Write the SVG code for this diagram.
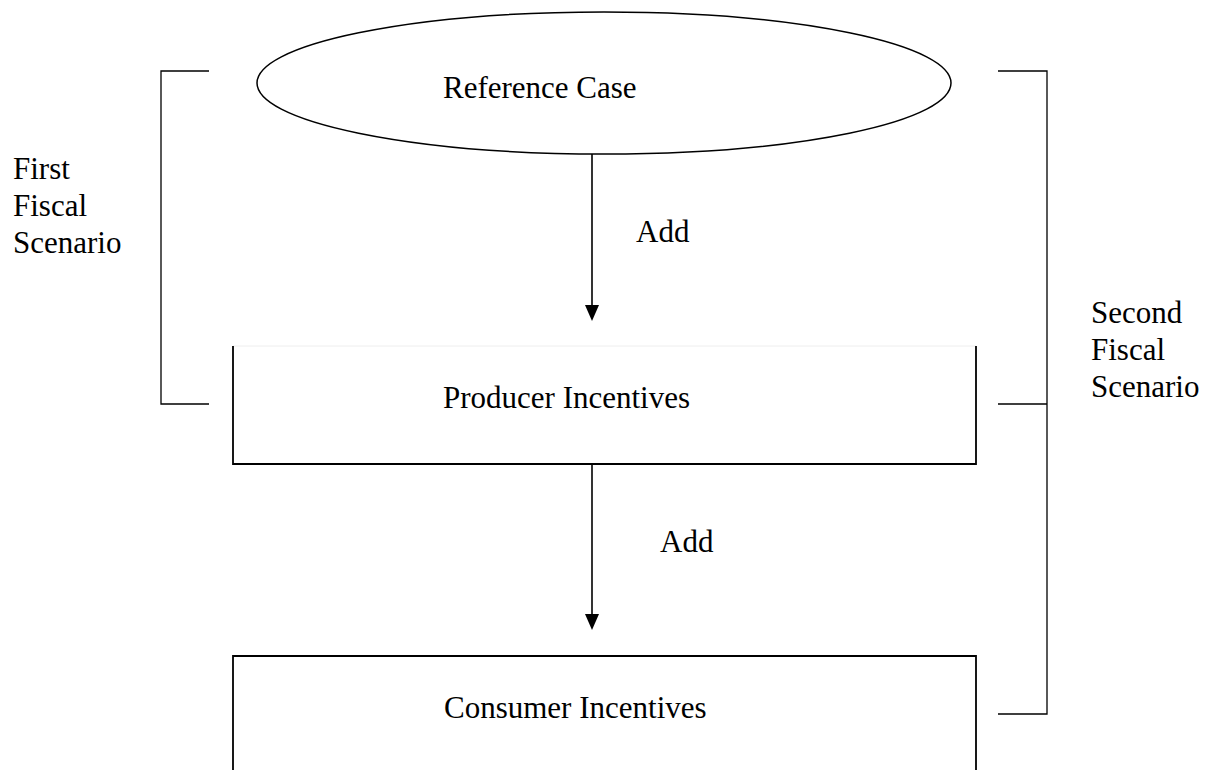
<svg xmlns="http://www.w3.org/2000/svg" width="1205" height="770" viewBox="0 0 1205 770">
<style>
text{font-family:"Liberation Serif","Times New Roman",serif;font-size:31px;fill:#000}
.br{fill:none;stroke:#000;stroke-width:1.3}
.box{fill:none;stroke:#000;stroke-width:1.8}
.conn{stroke:#000;stroke-width:1.6;fill:none}
.head{fill:#000}
</style>
<rect width="1205" height="770" fill="#fff"/>
<g id="reference-case">
<ellipse cx="604" cy="83" rx="347" ry="71" fill="none" stroke="#000" stroke-width="1.5"/>
<text x="443" y="98">Reference Case</text>
</g>
<g id="producer-incentives">
<line x1="233" y1="346" x2="976" y2="346" stroke="#eeeeee" stroke-width="1"/>
<path class="box" d="M233,346 V464 H976 V346"/>
<text x="443" y="408">Producer Incentives</text>
</g>
<g id="consumer-incentives">
<path class="box" d="M233,772 V656 H976 V772"/>
<text x="444" y="718">Consumer Incentives</text>
</g>
<g id="first-fiscal-scenario">
<path class="br" d="M209,71 H161 V404 H209"/>
<text x="13" y="179">First</text>
<text x="13" y="216">Fiscal</text>
<text x="13" y="253">Scenario</text>
</g>
<g id="second-fiscal-scenario">
<path class="br" d="M998,71 H1047 V714 H998 M998,404 H1047"/>
<text x="1091" y="323">Second</text>
<text x="1091" y="360">Fiscal</text>
<text x="1091" y="397">Scenario</text>
</g>
<g id="connectors">
<line class="conn" x1="592" y1="154" x2="592" y2="306"/>
<path class="head" d="M585,305 L599,305 L592,321 Z"/>
<text x="636" y="242">Add</text>
<line class="conn" x1="592" y1="464" x2="592" y2="615"/>
<path class="head" d="M585,614 L599,614 L592,630 Z"/>
<text x="660" y="552">Add</text>
</g>
</svg>
